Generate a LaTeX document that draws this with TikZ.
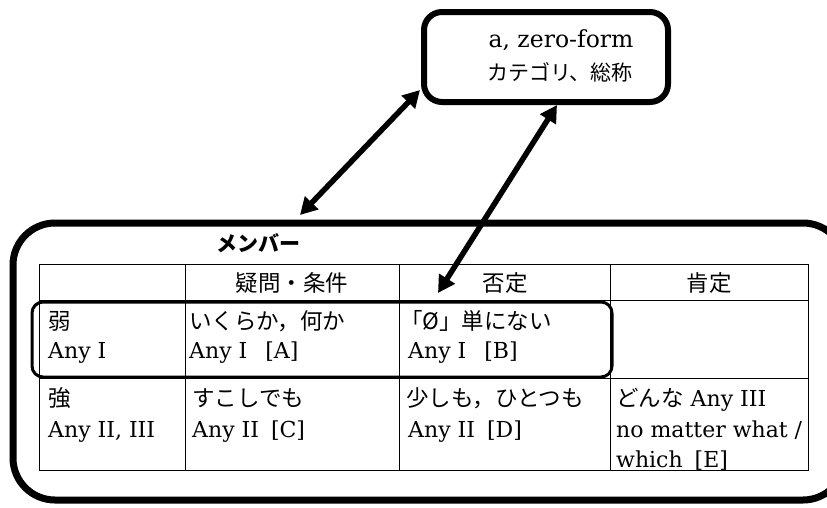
\documentclass[tikz,border=0pt]{standalone}
\usepackage{fontspec}
\setmainfont{DejaVu Serif}
\newfontfamily\jp{Noto Sans CJK JP}
\usetikzlibrary{arrows.meta}
\begin{document}
\begin{tikzpicture}[x=1pt,y=-1pt,
  txt/.style={anchor=base west,inner sep=0pt,font=\fontsize{22}{26}\selectfont},
  ctxt/.style={anchor=base,inner sep=0pt,font=\fontsize{22}{26}\selectfont},
  jpf/.style={font=\fontsize{22.5}{26}\selectfont\jp},
  bigarrow/.style={line width=5.5pt,{Triangle[length=17pt,width=18pt]}-{Triangle[length=17pt,width=18pt]}},
  grid/.style={line width=0.8pt}]
\useasboundingbox (0,0) rectangle (827,507);
% top box
\draw[line width=6pt,rounded corners=18pt] (424,12) rectangle (668,102);
\node (cat) [inner sep=0pt,minimum width=244pt,minimum height=90pt] at (546,57) {};
\node (t1) [ctxt,font=\fontsize{23.5}{26}\selectfont] at (561,47) {a, zero-form};
\node (t2) [ctxt,font=\fontsize{21}{24}\selectfont\jp] at (560,80) {カテゴリ、総称};
% big box
\draw[line width=7pt,rounded corners=42pt] (13,223) rectangle (845,500);
\node (mem) [inner sep=0pt,minimum width=832pt,minimum height=277pt] at (429,361.5) {};
\node (memlab) [ctxt,font=\fontsize{21}{24}\selectfont\jp\bfseries] at (258,251) {メンバー};
% table
\draw[grid] (39,264) rectangle (808,470);
\draw[grid] (39,300) -- (808,300);
\draw[grid] (39,378) -- (808,378);
\draw[grid] (185,264) -- (185,470);
\draw[grid] (399,264) -- (399,470);
\draw[grid] (610,264) -- (610,470);
% header
\node (h2) [ctxt,jpf] at (292,291) {疑問・条件};
\node (h3) [ctxt,jpf] at (505,291) {否定};
\node (h4) [ctxt,jpf] at (709,291) {肯定};
% row weak
\node (w1) [txt,jpf] at (48,329) {弱};
\node (w1b) [txt] at (48,358) {Any I};
\node (w2) [txt,jpf] at (189,329) {いくらか，何か};
\node (w2b) [txt] at (189,358) {Any I\hspace{18pt}[A]};
\node (w3) [txt,jpf] at (400,329) {「Ø」単にない};
\node (w3b) [txt] at (408,358) {Any I\hspace{18pt}[B]};
% row strong
\node (s1) [txt,jpf] at (48,406) {強};
\node (s1b) [txt] at (48,437) {Any II, III};
\node (s2) [txt,jpf] at (192,406) {すこしでも};
\node (s2b) [txt] at (192,437) {Any II\hspace{12pt}[C]};
\node (s3) [txt,jpf] at (406,406) {少しも，ひとつも};
\node (s3b) [txt] at (408,437) {Any II\hspace{12pt}[D]};
\node (s4) [txt] at (616,406) {{\fontsize{22.5}{26}\selectfont\jp どんな} Any III};
\node (s4b) [txt] at (616,437) {no matter what /};
\node (s4c) [txt] at (616,467) {which\hspace{12pt}[E]};
% highlight box
\draw[line width=3pt,rounded corners=11pt] (32,302) rectangle (612,377);
% arrows
\coordinate (a1top) at (420,90);
\coordinate (a1bot) at (300,215);
\coordinate (a2top) at (557,105);
\coordinate (a2bot) at (438,293);
\draw[bigarrow] (a1bot) -- (a1top);
\draw[bigarrow] (a2bot) -- (a2top);
\end{tikzpicture}
\end{document}
